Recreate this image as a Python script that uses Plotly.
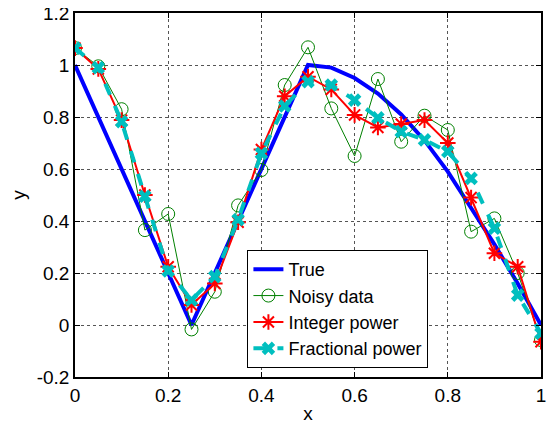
import plotly.graph_objects as go

x = [0.0, 0.05, 0.1, 0.15, 0.2, 0.25, 0.3, 0.35, 0.4, 0.45, 0.5,
     0.55, 0.6, 0.65, 0.7, 0.75, 0.8, 0.85, 0.9, 0.95, 1.0]
true_y = [1.0, 0.8, 0.6, 0.4, 0.2, 0.0, 0.2, 0.4, 0.6, 0.8, 1.0,
          0.99, 0.95, 0.89, 0.81, 0.71, 0.59, 0.45, 0.31, 0.16, 0.0]
noisy_y = [1.065, 0.995, 0.83, 0.365, 0.427, -0.017, 0.128, 0.46, 0.596, 0.923, 1.068,
           0.833, 0.65, 0.946, 0.705, 0.805, 0.75, 0.359, 0.41, 0.2, -0.058]
integer_y = [1.065, 0.985, 0.788, 0.5, 0.224, 0.077, 0.16, 0.395, 0.675, 0.88, 0.955,
             0.906, 0.808, 0.76, 0.773, 0.788, 0.70, 0.49, 0.276, 0.224, -0.064]
fractional_y = [1.065, 0.99, 0.782, 0.495, 0.208, 0.096, 0.186, 0.405, 0.66, 0.842, 0.936,
                0.923, 0.865, 0.797, 0.744, 0.712, 0.667, 0.564, 0.372, 0.115, -0.032]

x_ticks = [0, 0.2, 0.4, 0.6, 0.8, 1.0]
x_tick_labels = ["0", "0.2", "0.4", "0.6", "0.8", "1"]
y_ticks = [-0.2, 0, 0.2, 0.4, 0.6, 0.8, 1.0, 1.2]
y_tick_labels = ["-0.2", "0", "0.2", "0.4", "0.6", "0.8", "1", "1.2"]

FONT = "Arial, Liberation Sans, sans-serif"

fig = go.Figure()
fig.add_trace(go.Scatter(x=x, y=true_y, mode="lines", name="True",
                         line=dict(color="#0000ff", width=4)))
fig.add_trace(go.Scatter(x=x, y=noisy_y, mode="lines+markers", name="Noisy data",
                         line=dict(color="#008000", width=1),
                         marker=dict(symbol="circle-open", size=13,
                                     color="#008000", line=dict(width=1, color="#008000"))))
fig.add_trace(go.Scatter(x=x, y=integer_y, mode="lines+markers", name="Integer power",
                         line=dict(color="#ff0000", width=2),
                         marker=dict(symbol="asterisk-open", size=13,
                                     color="#ff0000", line=dict(width=2, color="#ff0000"))))
fig.add_trace(go.Scatter(x=x, y=fractional_y, mode="lines+markers", name="Fractional power",
                         line=dict(color="#00bfbf", width=4, dash="dash"),
                         marker=dict(symbol="x", size=12, color="#00bfbf",
                                     line=dict(width=0))))

axis_common = dict(
    showline=True, linecolor="black", linewidth=1.5, mirror="ticks",
    ticks="inside", ticklen=5, tickcolor="black",
    showgrid=True, gridcolor="#555555", gridwidth=1, griddash="dot",
    zeroline=False, automargin=False, ticklabeloverflow="allow",
    tickfont=dict(family=FONT, size=19, color="black"),
)

fig.update_xaxes(range=[0, 1], tickvals=x_ticks, ticktext=x_tick_labels,
                 title=dict(text="x", font=dict(family=FONT, size=19, color="black"), standoff=2),
                 **axis_common)
fig.update_yaxes(range=[-0.2, 1.2], tickvals=y_ticks, ticktext=y_tick_labels,
                 title=dict(text="y", font=dict(family=FONT, size=19, color="black"), standoff=14),
                 **axis_common)

fig.update_layout(
    width=548, height=422,
    margin=dict(l=66.5, r=15, t=5, b=53),
    paper_bgcolor="white", plot_bgcolor="white",
    font=dict(family=FONT, size=18, color="black"),
    showlegend=True,
    legend=dict(x=0.37, y=0.349, xanchor="left", yanchor="top",
                bgcolor="white", bordercolor="black", borderwidth=1,
                font=dict(family=FONT, size=18, color="black"),
                tracegroupgap=0),
)

fig.write_html("out.html")
